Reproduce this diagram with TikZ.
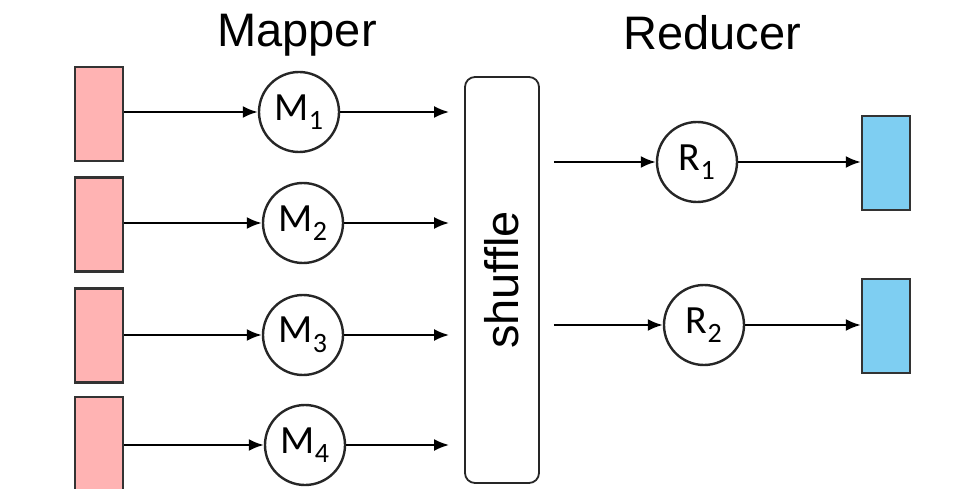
\documentclass[tikz,border=0pt]{standalone}
\usepackage{fontspec}
\setmainfont{Liberation Sans}
\newfontfamily\taskfont{Carlito}
\usetikzlibrary{positioning}
\usetikzlibrary{arrows.meta}
\definecolor{inpink}{HTML}{FFB3B3}
\definecolor{outblue}{HTML}{7ECEF2}
\tikzset{
  datain/.style={draw=black!80, fill=inpink, line width=2.4pt, minimum width=48pt, minimum height=94pt, inner sep=0pt},
  dataout/.style={datain, fill=outblue},
  task/.style={circle, draw=black!85, line width=2.4pt, minimum size=80pt, inner sep=0pt, font=\taskfont\fontsize{40}{48}\selectfont},
  flow/.style={-{Latex[length=15pt,width=12pt]}, line width=2.2pt},
  coltitle/.style={font=\fontsize{47}{56}\selectfont, anchor=base}
}

\begin{document}
\begin{tikzpicture}[x=1pt, y=-1pt]
\useasboundingbox (0,0) rectangle (953,489);

% titles
\node[coltitle] (maptitle) at (297,47) {Mapper};
\node[coltitle] (redtitle) at (712,50) {Reducer};

% input splits
\node[datain] (in1) at (99,114) {};
\node[datain] (in2) at (99,224.5) {};
\node[datain] (in3) at (99,335.5) {};
\node[datain] (in4) at (99,444) {};

% mappers
\node[task] (m1) at (299,112) {M\textsubscript{1}};
\node[task] (m2) at (303,223) {M\textsubscript{2}};
\node[task] (m3) at (303,335) {M\textsubscript{3}};
\node[task] (m4) at (305,445) {M\textsubscript{4}};

% shuffle
\node[draw=black!85, line width=1.8pt, rounded corners=10pt, minimum width=74pt, minimum height=406pt, inner sep=0pt] (shuffle) at (502,280) {};
\node[rotate=90, font=\fontsize{47}{56}\selectfont, inner sep=0pt] (shuffletext) at (shuffle.center) {shuffle};

% reducers
\node[task] (r1) at (697,162) {R\textsubscript{1}};
\node[task] (r2) at (704,325) {R\textsubscript{2}};

% outputs
\node[dataout] (out1) at (886,163) {};
\node[dataout] (out2) at (886,326) {};

\foreach \i in {1,...,4} {
  \draw[flow] (in\i.east |- m\i) -- (m\i);
  \draw[flow, shorten >=15pt] (m\i) -- (m\i -| shuffle.west);
}
\foreach \i in {1,2} {
  \draw[flow] ([xshift=14pt]shuffle.east |- r\i) -- (r\i);
  \draw[flow] (r\i) -- (r\i -| out\i.west);
}

\end{tikzpicture}
\end{document}
